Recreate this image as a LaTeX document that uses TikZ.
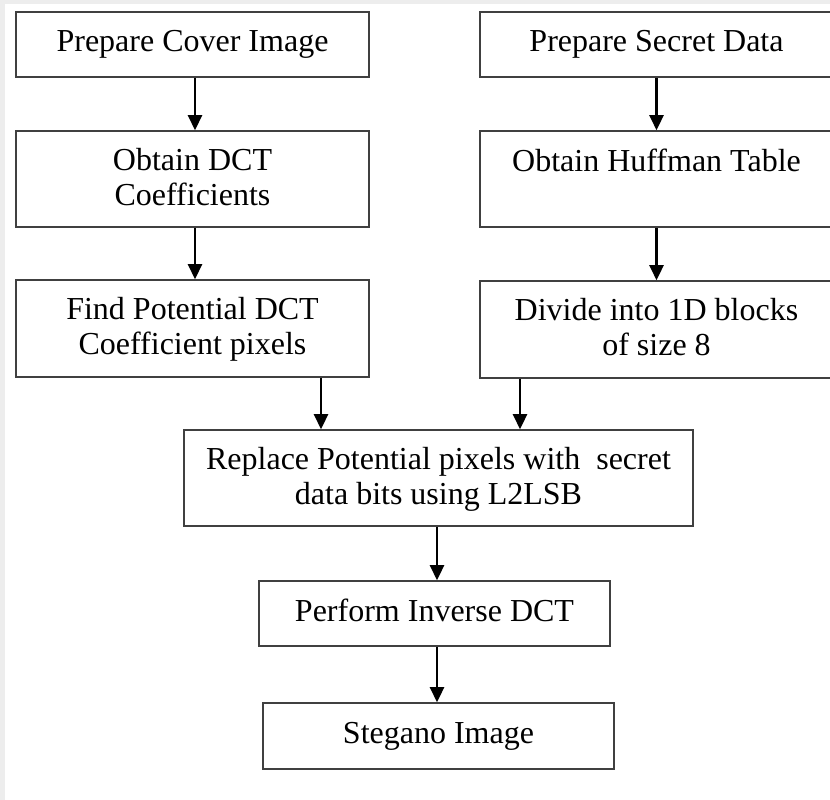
\documentclass[tikz,border=0pt]{standalone}
\usepackage{fontspec}
\setmainfont{Liberation Serif}
\usetikzlibrary{arrows.meta}
\definecolor{boxline}{gray}{0.25}
\definecolor{framegray}{gray}{0.93}
\begin{document}
\begin{tikzpicture}[x=1pt,y=-1pt,
  box/.style={draw=boxline, line width=1.6pt, rectangle, inner sep=0pt},
  lbl/.style={anchor=north, inner sep=0pt, align=center,
    font=\fontsize{32}{35}\selectfont},
  arr/.style={draw=black, line width=2.6pt,
    -{Triangle[width=14pt,length=15pt]}}]
% page with thin light frame on top and left
\clip (0,0) rectangle (830,800);
\fill[framegray] (0,0) rectangle (830,800);
\fill[white] (5,4) rectangle (830,800);

% left column
\node[box, minimum width=353pt, minimum height=65pt] (b1) at (192.5,44.5) {};
\node[box, minimum width=353pt, minimum height=96pt] (b3) at (192.5,179) {};
\node[box, minimum width=353pt, minimum height=97pt] (b5) at (192.5,328.5) {};
% right column
\node[box, minimum width=353pt, minimum height=65pt] (b2) at (656.5,44.5) {};
\node[box, minimum width=353pt, minimum height=96pt] (b4) at (656.5,179) {};
\node[box, minimum width=353pt, minimum height=97pt] (b6) at (656.5,329.5) {};
% merged steps
\node[box, minimum width=509pt, minimum height=96pt] (b7) at (438.5,478) {};
\node[box, minimum width=351pt, minimum height=65pt] (b8) at (434.5,613.5) {};
\node[box, minimum width=351pt, minimum height=66pt] (b9) at (438.5,736) {};

% labels
\node[lbl] (t1) at ([yshift=-19pt]b1.north) {Prepare Cover Image};
\node[lbl] (t2) at ([yshift=-19pt]b2.north) {Prepare Secret Data};
\node[lbl] (t3) at ([yshift=-18pt]b3.north) {Obtain DCT\\Coefficients};
\node[lbl] (t4) at ([yshift=-19pt]b4.north) {Obtain Huffman Table};
\node[lbl] (t5) at ([yshift=-18pt]b5.north) {Find Potential DCT\\Coefficient pixels};
\node[lbl] (t6) at ([yshift=-18pt]b6.north) {Divide into 1D blocks\\of size 8};
\node[lbl] (t7) at ([yshift=-18pt]b7.north) {Replace Potential pixels with\ \ secret\\data bits using L2LSB};
\node[lbl] (t8) at ([yshift=-19pt]b8.north) {Perform Inverse DCT};
\node[lbl] (t9) at ([yshift=-20pt]b9.north) {Stegano Image};

% connectors
\draw[arr] ([xshift=2.5pt]b1.south) -- ([xshift=2.5pt]b1.south |- b3.north);
\draw[arr] ([xshift=2.5pt]b3.south) -- ([xshift=2.5pt]b3.south |- b5.north);
\draw[arr] (b2.south) -- (b2.south |- b4.north);
\draw[arr] (b4.south) -- (b4.south |- b6.north);
\draw[arr] ([xshift=128.5pt]b5.south) -- ([xshift=128.5pt]b5.south |- b7.north);
\draw[arr] ([xshift=-136.5pt]b6.south) -- ([xshift=-136.5pt]b6.south |- b7.north);
\draw[arr] ([xshift=-1.5pt]b7.south) -- ([xshift=-1.5pt]b7.south |- b8.north);
\draw[arr] ([xshift=2.5pt]b8.south) -- ([xshift=2.5pt]b8.south |- b9.north);
\end{tikzpicture}
\end{document}
